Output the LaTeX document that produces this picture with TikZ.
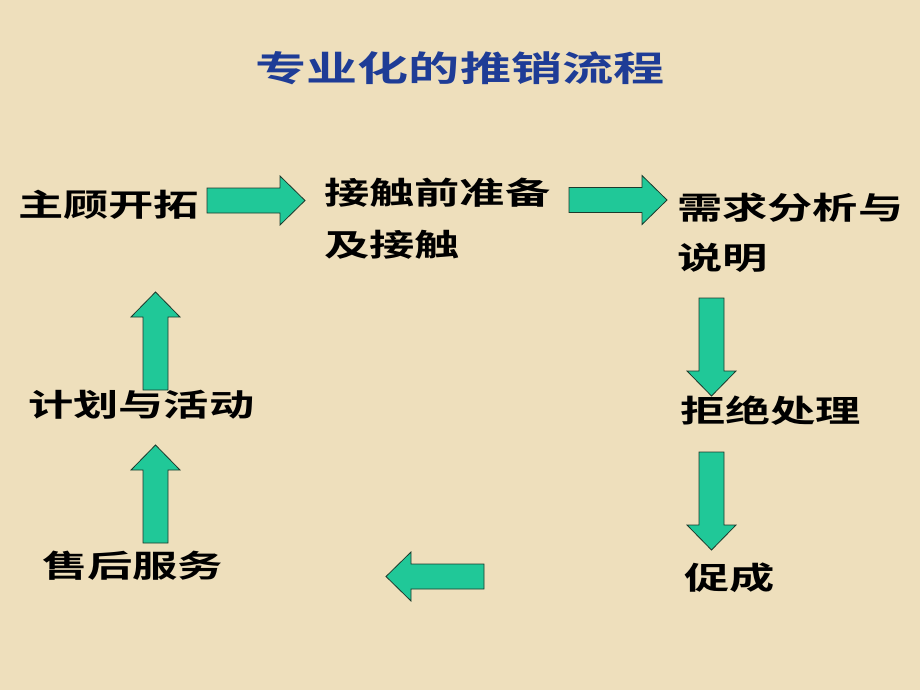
\documentclass[tikz,border=0pt]{standalone}
\usepackage{fontspec}
\newfontfamily\cjk{Noto Sans CJK SC}[FakeStretch=1.46,BoldFont={Noto Sans CJK SC Bold},BoldFeatures={FakeStretch=1.46}]
\definecolor{bg}{HTML}{EEDFBC}
\definecolor{arrowfill}{HTML}{20C898}
\definecolor{arrowline}{HTML}{1C3A2C}
\definecolor{titleblue}{HTML}{1E3C96}
\tikzset{
  lbl/.style={anchor=west, inner sep=0pt, font=\cjk\bfseries\fontsize{31}{52}\selectfont, text=black, align=left},
  ttl/.style={inner sep=0pt, font=\cjk\bfseries\fontsize{35}{40}\selectfont, text=titleblue},
  blockarrow/.pic={
    \draw[fill=arrowfill, draw=arrowline, line width=0.8pt]
      (0,12.5) -- (73,12.5) -- (73,24.5) -- (98,0) -- (73,-24.5) -- (73,-12.5) -- (0,-12.5) -- cycle;
  }
}
\begin{document}
\begin{tikzpicture}[x=1pt,y=-1pt]
\fill[bg] (0,0) rectangle (920,690);
\useasboundingbox (0,0) rectangle (920,690);
\node[ttl] (title) at (460,68) {专业化的推销流程};
\node[lbl] (n1) at (18,205) {主顾开拓};
\node[lbl, anchor=north west] (n2) at (324,178) {接触前准备\\及接触};
\node[lbl, anchor=north west, font=\cjk\bfseries\fontsize{31}{50}\selectfont] (n3) at (677,193) {需求分析与\\说明};
\node[lbl] (n4) at (680,411) {拒绝处理};
\node[lbl] (n5) at (684,578) {促成};
\node[lbl] (n6) at (42,566) {售后服务};
\node[lbl] (n7) at (28,405) {计划与活动};
\pic at (207,200.5) {blockarrow};
\pic at (569,200) {blockarrow};
\pic[rotate=-90] at (711.5,298) {blockarrow};
\pic[rotate=-90] at (711.5,452) {blockarrow};
\pic[rotate=180] at (484,576.5) {blockarrow};
\pic[rotate=90] at (155.5,543) {blockarrow};
\pic[rotate=90] at (155.5,390) {blockarrow};
\end{tikzpicture}
\end{document}
